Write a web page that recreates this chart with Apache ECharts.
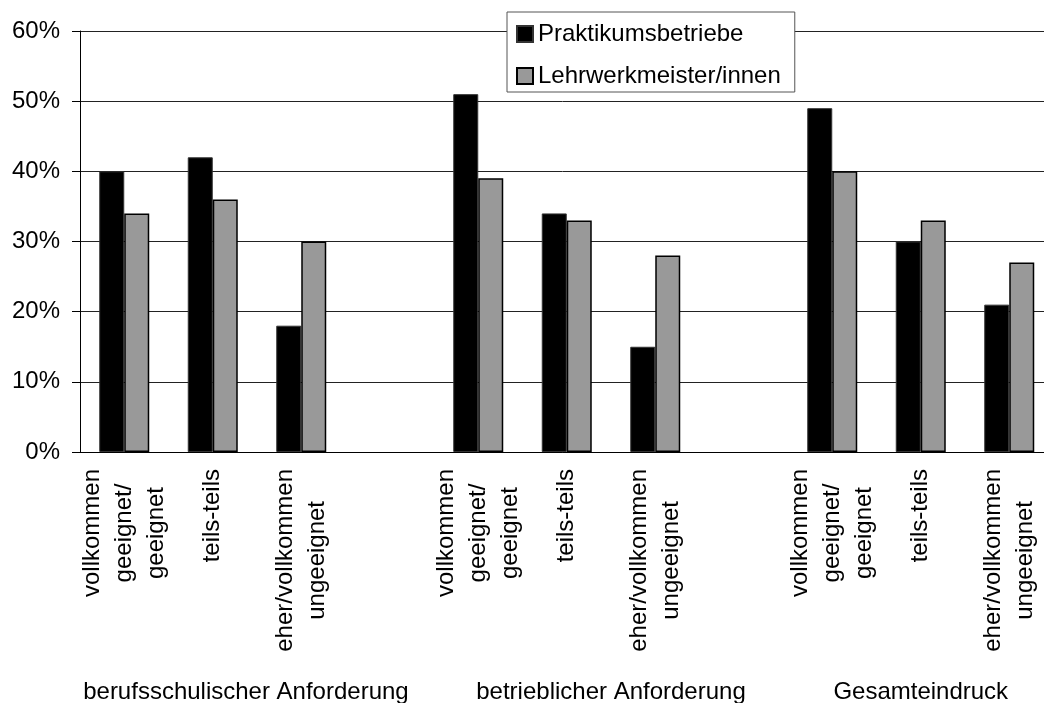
<!DOCTYPE html>
<html>
<head>
<meta charset="utf-8">
<script src="https://cdn.jsdelivr.net/npm/echarts@6/dist/echarts.min.js"></script>
<style>
html,body{margin:0;padding:0;background:#fff;}
#chart{width:1044px;height:703px;}
</style>
</head>
<body>
<div id="chart"></div>
<script>
// ---- data ----
var categories = [
  'vollkommen\ngeeignet/\ngeeignet', 'teils-teils', 'eher/vollkommen\nungeeignet', '',
  'vollkommen\ngeeignet/\ngeeignet', 'teils-teils', 'eher/vollkommen\nungeeignet', '',
  'vollkommen\ngeeignet/\ngeeignet', 'teils-teils', 'eher/vollkommen\nungeeignet'
];
var praktikumsbetriebe = [40, 42, 18, null, 51, 34, 15, null, 49, 30, 21];
var lehrwerkmeister   = [34, 36, 30, null, 39, 33, 28, null, 40, 33, 27];
var seriesNames = ['Praktikumsbetriebe', 'Lehrwerkmeister/innen'];
var groupLabels = ['berufsschulischer Anforderung', 'betrieblicher Anforderung', 'Gesamteindruck'];
var yTicks = [0, 10, 20, 30, 40, 50, 60];

// ---- layout helpers ----
var FONT = '"Liberation Sans", Arial, sans-serif';
var FS = 24;
var groupSlots = [15, 48, 76];   // positions on a fine 89-point helper axis
var groupAxisData = [];
for (var i = 0; i < 89; i++) groupAxisData.push('');
groupSlots.forEach(function (s, k) { groupAxisData[s] = groupLabels[k]; });

// centre each line of a multi-line rotated label inside its block
var mctx = document.createElement('canvas').getContext('2d');
mctx.font = FS + 'px ' + FONT;
var rich = {};
var lineKey = {};
var keyCount = 0;
categories.forEach(function (c) {
  if (!c) return;
  var lines = c.split('\n');
  var w = 0;
  lines.forEach(function (l) { w = Math.max(w, mctx.measureText(l).width); });
  lines.forEach(function (l) {
    var id = c + '|' + l;
    if (lineKey[id]) return;
    var k = 'l' + (keyCount++);
    lineKey[id] = k;
    var p = Math.max(0, (w - mctx.measureText(l).width) / 2);
    rich[k] = {padding: [0, p, 0, 0], fontSize: FS, lineHeight: 32, fontFamily: FONT, color: '#000'};
  });
});

var chart = echarts.init(document.getElementById('chart'), null, {renderer: 'canvas'});
chart.setOption({
  animation: false,
  backgroundColor: '#ffffff',
  textStyle: {fontFamily: FONT},
  grid: {left: 80, top: 31, width: 973.5, height: 421, containLabel: false, outerBoundsMode: 'none'},
  legend: {
    orient: 'vertical',
    left: 507, top: 12,
    padding: [10, 14, 4, 9],
    itemGap: 18,
    itemWidth: 16, itemHeight: 16,
    backgroundColor: '#ffffff',
    borderColor: '#555555', borderWidth: 1,
    borderRadius: 0,
    icon: 'rect',
    textStyle: {fontFamily: FONT, fontSize: FS, color: '#000', lineHeight: 24},
    data: seriesNames
  },
  xAxis: [{
    type: 'category',
    data: categories,
    axisLine: {lineStyle: {color: '#000', width: 1}},
    axisTick: {show: false},
    axisLabel: {
      interval: 0,
      rotate: 90,
      margin: 17,
      color: '#000',
      fontFamily: FONT,
      fontSize: FS,
      lineHeight: 32,
      formatter: function (v) {
        if (!v) return '';
        return v.split('\n').map(function (l) { return '{' + lineKey[v + '|' + l] + '|' + l + '}'; }).join('\n');
      },
      rich: rich
    },
    splitLine: {show: false}
  }, {
    type: 'category',
    data: groupAxisData,
    boundaryGap: false,
    position: 'bottom',
    offset: 219,
    axisLine: {show: false},
    axisTick: {show: false},
    splitLine: {show: false},
    axisLabel: {interval: 0, margin: 9, color: '#000', fontFamily: FONT, fontSize: FS, lineHeight: 24}
  }],
  yAxis: {
    type: 'value',
    min: 0, max: 60, interval: 10,
    axisLine: {show: true, lineStyle: {color: '#000', width: 1}},
    axisTick: {show: true, length: 8, lineStyle: {color: '#000'}},
    axisLabel: {
      margin: 20, color: '#000', fontFamily: FONT, fontSize: FS,
      formatter: function (v) { return yTicks.indexOf(v) >= 0 ? v + '%' : ''; }
    },
    splitLine: {show: true, lineStyle: {color: '#222', width: 1}}
  },
  series: [{
    name: seriesNames[0],
    type: 'bar',
    data: praktikumsbetriebe,
    barWidth: 25,
    barGap: '0%',
    itemStyle: {color: '#000000', borderColor: '#333333', borderWidth: 1}
  }, {
    name: seriesNames[1],
    type: 'bar',
    data: lehrwerkmeister,
    barWidth: 25,
    barGap: '0%',
    itemStyle: {color: '#999999', borderColor: '#000000', borderWidth: 1.5}
  }]
});
</script>
</body>
</html>
